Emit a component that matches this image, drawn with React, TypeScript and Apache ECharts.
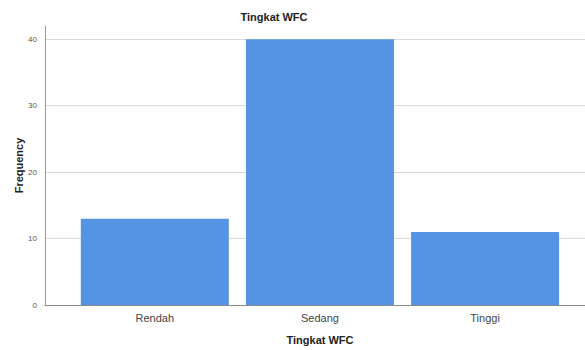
import React, { useEffect, useRef } from "react";
import * as echarts from "echarts";

const categories = ["Rendah", "Sedang", "Tinggi"];
const frequencies = [13, 40, 11];
const yTicks = [0, 10, 20, 30, 40];

const FONT = "'Liberation Sans', Arial, sans-serif";

export default function App() {
  const ref = useRef<HTMLDivElement>(null);
  useEffect(() => {
    if (!ref.current) return;
    const chart = echarts.init(ref.current, undefined, { renderer: "svg" });
    const positions = categories.map((_, i) => i + 1);
    chart.setOption({
      animation: false,
      backgroundColor: "#ffffff",
      title: {
        text: "Tingkat WFC",
        left: 269,
        textAlign: "center",
        top: 6,
        textStyle: { fontFamily: FONT, fontSize: 11, fontWeight: "bold", color: "#222" },
      },
      grid: { left: 45, right: 0, top: 26, bottom: 44, containLabel: false },
      xAxis: {
        type: "value",
        min: 0.335,
        max: 3.605,
        name: "Tingkat WFC",
        nameLocation: "middle",
        nameGap: 29,
        nameMoveOverlap: false,
        nameTextStyle: {
          fontFamily: FONT,
          fontSize: 11,
          fontWeight: "bold",
          color: "#222",
          padding: [0, 0, 0, 10],
        },
        axisLine: { show: true, lineStyle: { color: "#888", width: 1 } },
        axisTick: { show: false },
        splitLine: { show: false },
        axisLabel: {
          customValues: positions,
          formatter: (v: number) => categories[Math.round(v) - 1] ?? "",
          fontFamily: FONT,
          fontSize: 11,
          color: "#444",
          margin: 7,
        },
      },
      yAxis: {
        type: "value",
        min: 0,
        max: 42,
        name: "Frequency",
        nameLocation: "middle",
        nameGap: 21,
        nameMoveOverlap: false,
        nameTextStyle: { fontFamily: FONT, fontSize: 11, fontWeight: "bold", color: "#222" },
        axisLine: { show: true, lineStyle: { color: "#999", width: 1 } },
        axisTick: { show: false },
        axisLabel: {
          customValues: yTicks,
          fontFamily: FONT,
          fontSize: 8,
          color: "#555",
          margin: 8,
        },
        splitLine: {
          show: true,
          showMaxLine: false,
          lineStyle: { color: "#d9d9d9", width: 1 },
        },
        interval: 10,
      },
      series: [
        {
          type: "bar",
          data: positions.map((p, i) => [p, frequencies[i]]),
          barWidth: 148,
          itemStyle: { color: "#5593e3" },
        },
      ],
    });
    return () => chart.dispose();
  }, []);
  return (
    <div
      ref={ref}
      style={{ position: "fixed", left: 0, top: 0, width: 585, height: 350 }}
    />
  );
}
